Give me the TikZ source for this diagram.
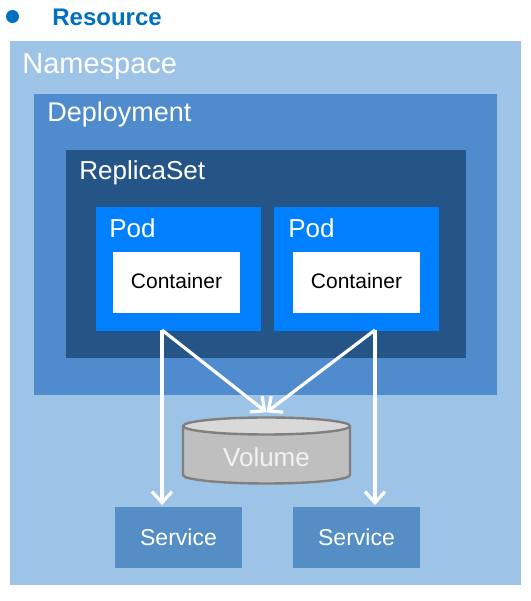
\documentclass[tikz,border=0pt]{standalone}
\usepackage{fontspec}
\setmainfont{Liberation Sans}
\definecolor{resblue}{RGB}{0,112,192}
\definecolor{nsblue}{RGB}{157,195,230}
\definecolor{depblue}{RGB}{80,140,205}
\definecolor{rsblue}{RGB}{37,85,135}
\definecolor{podblue}{RGB}{0,128,255}
\definecolor{svcblue}{RGB}{84,142,196}
\definecolor{volbody}{RGB}{191,191,191}
\definecolor{voltop}{RGB}{217,217,217}
\definecolor{volline}{RGB}{128,128,128}
\usetikzlibrary{arrows.meta,positioning,shapes.geometric,fit,calc}

\begin{document}
\begin{tikzpicture}[x=0.5pt, y=-0.5pt,
  area/.style={inner sep=0pt, outer sep=0pt, fill=#1},
  title/.style={anchor=base west, inner sep=0pt, text=white},
  flow/.style={-{Straight Barb[length=5.5pt,width=10pt]}, white, line width=1.6pt}]
  \useasboundingbox (0,0) rectangle (531,601);

  % Header
  \fill[resblue] (12.5,16.5) circle (6.5);
  \node[title, text=resblue, font=\fontsize{12}{14}\selectfont\bfseries] (res) at (52,25) {Resource};

  % Nested boxes
  \node[area=nsblue, fit={(10,41) (521,585)}] (ns) {};
  \node[title, font=\fontsize{14.5}{17}\selectfont] (nslabel) at (22,73) {Namespace};
  \node[area=depblue, fit={(34,94) (497,395)}] (dep) {};
  \node[title, font=\fontsize{13.5}{16}\selectfont] (deplabel) at (47,121) {Deployment};
  \node[area=rsblue, fit={(66,150) (466,358)}] (rs) {};
  \node[title, font=\fontsize{13}{15}\selectfont] (rslabel) at (79,179) {ReplicaSet};

  % Pods
  \node[area=podblue, fit={(96,207) (261,331)}] (pod1) {};
  \node[title, font=\fontsize{13}{15}\selectfont] (pod1label) at (109,237) {Pod};
  \node[area=white, fit={(113,252) (240,313)}] (ctr1) {};
  \node[font=\fontsize{10.5}{12}\selectfont] at ([yshift=1pt]ctr1) {Container};
  \node[area=podblue, fit={(274,207) (439,331)}] (pod2) {};
  \node[title, font=\fontsize{13}{15}\selectfont] (pod2label) at (288,237) {Pod};
  \node[area=white, fit={(293,252) (420,313)}] (ctr2) {};
  \node[font=\fontsize{10.5}{12}\selectfont] at ([yshift=1pt]ctr2) {Container};

  % Volume
  \node[cylinder, shape border rotate=90, aspect=0.17, minimum width=83.5pt, minimum height=33pt,
    cylinder uses custom fill, cylinder body fill=volbody, cylinder end fill=voltop,
    draw=volline, line width=1.2pt, text=white!95!black, font=\fontsize{13}{15}\selectfont] (vol) at (266.5,457) {Volume};

  % Services
  \node[area=svcblue, fit={(115,507) (242,568)}] (svc1) {};
  \node[text=white, font=\fontsize{11.5}{14}\selectfont] at (svc1) {Service};
  \node[area=svcblue, fit={(293,507) (420,568)}] (svc2) {};
  \node[text=white, font=\fontsize{11.5}{14}\selectfont] at (svc2) {Service};

  % Arrows
  \coordinate (out1) at (162,330);
  \coordinate (out2) at (375,330);
  \draw[flow] (out1) -- ([yshift=2pt]vol.north);
  \draw[flow] (out2) -- ([yshift=2pt]vol.north);
  \draw[flow] (out1) -- ([yshift=1pt]out1 |- svc1.north);
  \draw[flow] (out2) -- ([yshift=1pt]out2 |- svc2.north);
\end{tikzpicture}
\end{document}
